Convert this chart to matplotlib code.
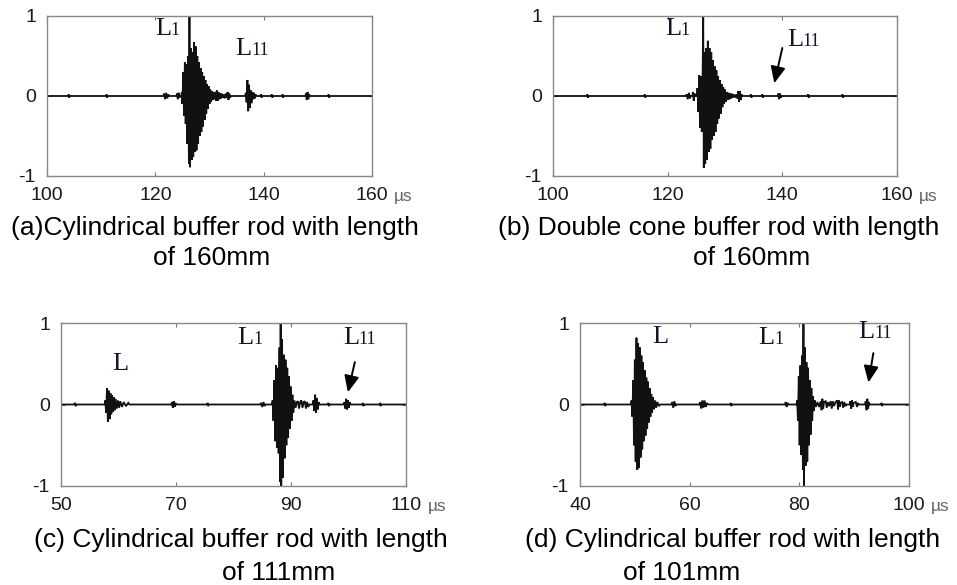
import matplotlib
matplotlib.use("Agg")
import matplotlib.pyplot as plt

plt.rcParams['font.family'] = ['Liberation Sans', 'DejaVu Sans']
plt.rcParams['axes.unicode_minus'] = False

W, H = 957, 585

# ---- waveform samples (time in us, normalised amplitude) ----
# each burst is (times, values); the trace sits at 0 between bursts
bursts_a = [
    ([103.9, 104.0, 104.1, 104.2], [0, 0.02, -0.02, 0]),
    ([110.9, 111.0, 111.1, 111.2], [0, 0.02, -0.02, 0]),
    ([121.5, 121.6, 121.8, 122.0, 122.2, 122.4, 122.5], [0, 0.03, -0.04, 0.04, -0.03, 0.02, 0]),
    ([123.9, 124.0, 124.15, 124.3, 124.45, 124.6],
     [0, 0.03, -0.04, 0.04, -0.02, 0]),
    ([124.8, 124.9, 125.0, 125.15, 125.3, 125.45, 125.6, 125.75, 125.9, 126.05, 126.2,
      126.3, 126.4, 126.55, 126.7, 126.85, 127.0, 127.15, 127.3, 127.45, 127.6,
      127.75, 127.9, 128.05, 128.2, 128.35, 128.5, 128.65, 128.8, 128.95, 129.1,
      129.25, 129.4, 129.55, 129.7, 129.85, 130.0, 130.15, 130.3, 130.45, 130.6,
      130.75, 130.9, 131.05, 131.2, 131.35, 131.5, 131.65, 131.8, 131.95, 132.1,
      132.25, 132.4, 132.6, 132.8, 133.0, 133.2, 133.35, 133.5, 133.65, 133.8, 134.0],
     [0, 0.05, -0.1, 0.3, -0.25, 0.42, -0.35, 0.4, -0.6, 0.5, -0.85,
      1.0, -0.89, 0.6, -0.8, 0.55, -0.76, 0.67, -0.7, 0.62, -0.68,
      0.5, -0.6, 0.42, -0.5, 0.35, -0.45, 0.3, -0.38, 0.25, -0.3,
      0.2, -0.22, 0.15, -0.16, 0.12, -0.1, 0.08, -0.07, 0.06, -0.05,
      0.05, -0.04, 0.05, -0.06, 0.07, -0.06, 0.05, -0.04, 0.03, -0.03,
      0.03, -0.02, 0.02, -0.03, 0.03, -0.02, 0.05, -0.05, 0.03, -0.02, 0]),
    ([136.6, 136.7, 136.85, 137.0, 137.15, 137.3, 137.45, 137.6, 137.75, 137.9, 138.05,
      138.2, 138.35, 138.5, 138.6],
     [0, 0.04, -0.08, 0.2, -0.19, 0.14, -0.15, 0.07, -0.09, 0.05, -0.04,
      0.04, -0.03, 0.02, 0]),
    ([139.4, 139.5, 139.6, 139.7], [0, 0.02, -0.02, 0]),
    ([141.4, 141.5, 141.6, 141.7], [0, 0.02, -0.02, 0]),
    ([143.4, 143.5, 143.6, 143.7], [0, 0.02, -0.02, 0]),
    ([147.7, 147.8, 147.95, 148.1, 148.25, 148.4, 148.5],
     [0, 0.03, -0.05, 0.05, -0.04, 0.02, 0]),
    ([151.9, 152.0, 152.1, 152.2], [0, 0.02, -0.02, 0]),
]

bursts_b = [
    ([105.9, 106.0, 106.1, 106.2], [0, 0.02, -0.02, 0]),
    ([115.9, 116.0, 116.1, 116.2], [0, 0.02, -0.02, 0]),
    ([123.2, 123.3, 123.5, 123.7, 123.9, 124.0], [0, 0.02, -0.04, 0.04, -0.03, 0]),
    ([124.3, 124.4, 124.55, 124.7, 124.8], [0, 0.05, -0.06, 0.03, 0]),
    ([125.1, 125.2, 125.35, 125.5, 125.65, 125.8, 125.95, 126.1, 126.2, 126.3, 126.4,
      126.55, 126.7, 126.85, 127.0, 127.15, 127.3, 127.45, 127.6, 127.75, 127.9,
      128.05, 128.2, 128.35, 128.5, 128.65, 128.8, 128.95, 129.1, 129.25, 129.4,
      129.55, 129.7, 129.85, 130.0, 130.15, 130.3, 130.45, 130.6, 130.75, 130.9,
      131.05, 131.2, 131.4, 131.6, 131.8, 132.0, 132.15, 132.3, 132.45, 132.6,
      132.75, 132.9, 133.0],
     [0, 0.1, -0.2, 0.26, -0.4, 0.25, -0.45, 0.3, 1.0, -0.9, 0.55,
      -0.85, 0.6, -0.8, 0.69, -0.7, 0.6, -0.66, 0.55, -0.55, 0.45,
      -0.5, 0.37, -0.45, 0.32, -0.35, 0.25, -0.28, 0.2, -0.22, 0.15,
      -0.14, 0.11, -0.1, 0.08, -0.07, 0.05, -0.05, 0.04, -0.04, 0.03,
      -0.03, 0.03, -0.02, 0.02, -0.02, 0.02, -0.03, 0.06, -0.07, 0.06,
      -0.05, 0.02, 0]),
    ([134.4, 134.5, 134.6, 134.7], [0, 0.02, -0.02, 0]),
    ([136.4, 136.5, 136.6, 136.7], [0, 0.02, -0.02, 0]),
    ([139.2, 139.3, 139.45, 139.6, 139.75, 139.85], [0, 0.03, -0.04, 0.03, -0.02, 0]),
    ([144.4, 144.5, 144.6, 144.7], [0, 0.02, -0.02, 0]),
    ([150.4, 150.5, 150.6, 150.7], [0, 0.02, -0.02, 0]),
]

bursts_c = [
    ([52.3, 52.4, 52.6, 52.7], [0, 0.02, -0.02, 0]),
    ([57.6, 57.7, 57.85, 58.0, 58.15, 58.3, 58.45, 58.6, 58.75, 58.9, 59.05, 59.2,
      59.35, 59.5, 59.7, 59.9, 60.1, 60.3, 60.6, 60.9, 61.3, 61.7, 61.9],
     [0, 0.05, -0.1, 0.2, -0.21, 0.17, -0.18, 0.14, -0.12, 0.11, -0.09, 0.09,
      -0.07, 0.07, -0.05, 0.05, -0.04, 0.04, -0.03, 0.03, -0.02, 0.02, 0]),
    ([69.2, 69.3, 69.45, 69.6, 69.75, 69.9, 70.0], [0, 0.03, -0.04, 0.04, -0.03, 0.02, 0]),
    ([75.4, 75.5, 75.6, 75.7], [0, 0.02, -0.02, 0]),
    ([84.7, 84.8, 85.0, 85.2, 85.4, 85.5], [0, 0.02, -0.03, 0.03, -0.02, 0]),
    ([86.7, 86.8, 86.95, 87.1, 87.25, 87.4, 87.55, 87.7, 87.85, 88.0, 88.1, 88.2, 88.3,
      88.45, 88.6, 88.75, 88.9, 89.05, 89.2, 89.35, 89.5, 89.65, 89.8, 89.95,
      90.1, 90.25, 90.4, 90.6, 90.8, 91.0, 91.2, 91.4, 91.6, 91.8, 92.0, 92.2,
      92.4, 92.6, 92.8, 93.0, 93.2],
     [0, 0.05, -0.2, 0.3, -0.45, 0.48, -0.53, 0.45, -0.6, 0.7, -0.95, 1.0, -1.0,
      0.8, -0.9, 0.61, -0.66, 0.55, -0.5, 0.45, -0.41, 0.35, -0.3, 0.22,
      -0.2, 0.12, -0.1, 0.05, -0.04, 0.03, 0.04, -0.05, 0.03, 0.05, -0.04, 0.03,
      0.04, -0.05, 0.03, -0.03, 0]),
    ([93.8, 93.9, 94.05, 94.2, 94.35, 94.5, 94.65, 94.8, 94.9],
     [0, 0.05, -0.08, 0.12, -0.1, 0.08, -0.06, 0.03, 0]),
    ([96.4, 96.5, 96.6, 96.7], [0, 0.02, -0.02, 0]),
    ([99.2, 99.3, 99.45, 99.6, 99.75, 99.9, 100.05, 100.2, 100.3],
     [0, 0.03, -0.05, 0.07, -0.06, 0.05, -0.04, 0.03, 0]),
    ([102.4, 102.5, 102.6, 102.7], [0, 0.02, -0.02, 0]),
    ([105.4, 105.5, 105.6, 105.7], [0, 0.02, -0.02, 0]),
]

bursts_d = [
    ([44.4, 44.5, 44.6, 44.7], [0, 0.02, -0.02, 0]),
    ([49.3, 49.4, 49.55, 49.7, 49.85, 50.0, 50.15, 50.3, 50.45, 50.6, 50.75, 50.9,
      51.05, 51.2, 51.35, 51.5, 51.65, 51.8, 51.95, 52.1, 52.25, 52.4, 52.55,
      52.7, 52.85, 53.0, 53.15, 53.3, 53.5, 53.7, 53.9, 54.1, 54.4, 54.6],
     [0, 0.05, -0.15, 0.3, -0.5, 0.55, -0.7, 0.82, -0.8, 0.75, -0.78, 0.7,
      -0.65, 0.6, -0.55, 0.52, -0.45, 0.42, -0.38, 0.33, -0.3, 0.28, -0.22,
      0.2, -0.15, 0.13, -0.1, 0.09, -0.06, 0.05, -0.04, 0.03, -0.02, 0]),
    ([56.7, 56.8, 57.0, 57.2, 57.4, 57.5], [0, 0.03, -0.04, 0.04, -0.02, 0]),
    ([61.8, 61.9, 62.1, 62.3, 62.5, 62.7, 62.9, 63.1, 63.3],
     [0, 0.03, -0.05, 0.05, -0.04, 0.05, -0.03, 0.02, 0]),
    ([67.4, 67.5, 67.6, 67.7], [0, 0.02, -0.02, 0]),
    ([77.4, 77.5, 77.7, 77.9, 78.0], [0, 0.03, -0.03, 0.02, 0]),
    ([79.5, 79.6, 79.75, 79.9, 80.05, 80.2, 80.35, 80.5, 80.65, 80.75, 80.85, 81.0,
      81.15, 81.3, 81.45, 81.6, 81.75, 81.9, 82.05, 82.2, 82.35, 82.5, 82.65, 82.8,
      83.0, 83.3, 83.6, 83.9, 84.05, 84.2, 84.35, 84.5, 84.8, 85.0, 85.2, 85.4,
      85.7, 85.9, 86.1, 86.3, 86.6, 86.9, 87.05, 87.2, 87.35, 87.5, 87.8, 88.0,
      88.2, 88.4, 88.6],
     [0, 0.05, -0.2, 0.35, -0.5, 0.48, -0.62, 0.6, -0.8, 1.0, -1.0, 0.7,
      -0.75, 0.52, -0.7, 0.45, -0.5, 0.3, -0.37, 0.2, -0.2, 0.1, -0.08, 0.05,
      -0.03, 0.03, -0.03, 0.04, -0.07, 0.07, -0.05, 0.03, 0.04, -0.04, 0.03, -0.02,
      0.04, -0.05, 0.04, -0.02, 0.03, 0.05, -0.06, 0.05, -0.03, 0.02, 0.03, -0.04,
      0.03, -0.02, 0]),
    ([89.2, 89.3, 89.45, 89.6, 89.75, 89.9, 90.3, 90.5, 90.7, 90.8],
     [0, 0.04, -0.05, 0.05, -0.03, 0.02, 0.03, -0.03, 0.02, 0]),
    ([92.0, 92.1, 92.25, 92.4, 92.55, 92.7, 92.8], [0, 0.04, -0.07, 0.07, -0.05, 0.03, 0]),
    ([94.9, 95.0, 95.1, 95.2], [0, 0.02, -0.02, 0]),
]

xlims = [(100, 160), (100, 160), (50, 110), (40, 100)]
xticks = [[100, 120, 140, 160], [100, 120, 140, 160], [50, 70, 90, 110], [40, 60, 80, 100]]
yticks = [-1, 0, 1]

captions = [
    ["(a)Cylindrical buffer rod with length", "of 160mm"],
    ["(b) Double cone buffer rod with length", "of 160mm"],
    ["(c) Cylindrical buffer rod with length", "of 111mm"],
    ["(d) Cylindrical buffer rod with length", "of 101mm"],
]

# echo labels: (main letter, subscript, t, amplitude of baseline)
echo_labels = [
    [("L", "1", 119.9, 0.76), ("L", "11", 134.7, 0.51)],
    [("L", "1", 119.5, 0.76), ("L", "11", 140.8, 0.63)],
    [("L", "", 58.9, 0.42), ("L", "1", 80.6, 0.74), ("L", "11", 99.0, 0.74)],
    [("L", "", 53.1, 0.75), ("L", "1", 72.5, 0.74), ("L", "11", 90.7, 0.82)],
]
# arrows pointing at L11: (t_start, y_start, t_end, y_end)
arrows = [None, (140.0, 0.6, 138.6, 0.16), (101.1, 0.52, 99.9, 0.15), (93.5, 0.63, 92.6, 0.27)]

# axes boxes in pixels: left, top, right, bottom
boxes = [(47, 16, 372, 176), (553, 16, 897, 176), (61, 323, 406, 486), (580, 323, 909, 486)]
# caption positions in pixels: (x, y, ha) for each line
cap_pos = [
    [(215, 228, 'center'), (153, 258, 'left')],
    [(719, 228, 'center'), (693, 258, 'left')],
    [(241, 540, 'center'), (222, 573, 'left')],
    [(733, 540, 'center'), (623, 573, 'left')],
]

all_bursts = [bursts_a, bursts_b, bursts_c, bursts_d]

fig = plt.figure(figsize=(W / 100, H / 100), dpi=100)

for i in range(4):
    l, t, r, b = boxes[i]
    ax = fig.add_axes([l / W, 1 - b / H, (r - l) / W, (b - t) / H])

    # join the bursts into one trace, flat at 0 in between
    tt = [xlims[i][0]]
    vv = [0]
    for bt, bv in all_bursts[i]:
        tt += bt
        vv += bv
    tt.append(xlims[i][1])
    vv.append(0)
    ax.plot(tt, vv, color='#111111', lw=1.3, solid_joinstyle='miter')

    ax.set_xlim(*xlims[i])
    ax.set_ylim(-1, 1)
    ax.set_xticks(xticks[i])
    ax.set_yticks(yticks)
    ax.set_yticklabels(['-1', '0', '1'])
    ax.tick_params(direction='in', length=3, width=0.8, color='#777777',
                   top=True, right=True, labelsize=14, labelcolor='#1a1a1a', pad=8)
    for s in ax.spines.values():
        s.set_color('#888888')
        s.set_linewidth(1.0)
    ax.annotate('\u00b5s', xy=(1, 0), xycoords='axes fraction', xytext=(16, -9),
                textcoords='offset points', fontsize=12.5, color='#666666', va='top', ha='left')

    for main, sub, x, y in echo_labels[i]:
        ax.text(x, y, main, fontfamily='Liberation Serif', fontsize=19, color='#15152a',
                ha='left', va='baseline')
        if sub:
            ax.annotate(sub, xy=(x, y), xycoords='data', xytext=(11.5, 0),
                        textcoords='offset points', fontfamily='Liberation Serif',
                        fontsize=13, color='#15152a', ha='left', va='baseline')
    if arrows[i]:
        x0, y0, x1, y1 = arrows[i]
        ax.annotate('', xy=(x1, y1), xytext=(x0, y0),
                    arrowprops=dict(arrowstyle='-|>,head_length=1.0,head_width=0.45',
                                    color='black', lw=1.4, shrinkA=0, shrinkB=0))

    for (txt, (px, py, ha)) in zip(captions[i], cap_pos[i]):
        fig.text(px / W, 1 - py / H, txt, fontsize=19, ha=ha, va='center', color='black')

fig.savefig('out.png', dpi=100)
